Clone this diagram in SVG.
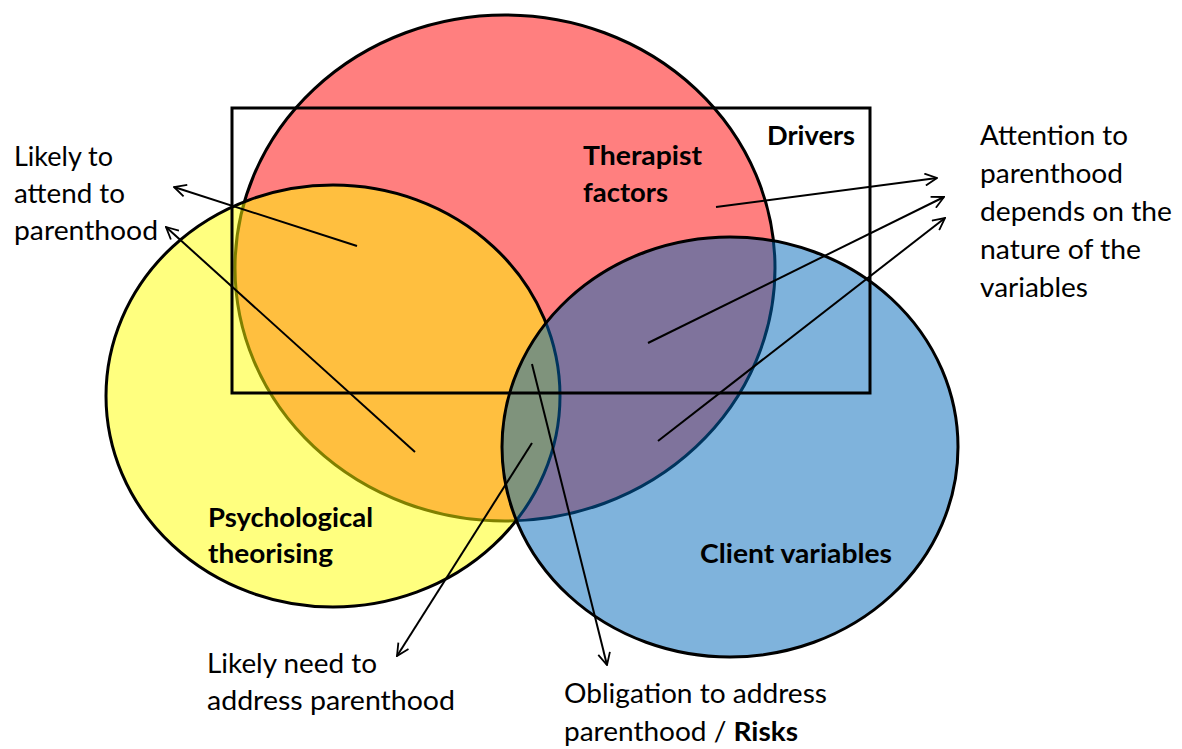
<svg xmlns="http://www.w3.org/2000/svg" width="1182" height="749" viewBox="0 0 1182 749">
<style>
.c{fill-opacity:0.5;stroke:#000;stroke-width:3}
.t{font-family:Lato,"Liberation Sans",sans-serif;font-size:26px;fill:#000}
.b{font-weight:bold}
.a{fill:none;stroke:#000;stroke-width:2;marker-end:url(#ah)}
</style>
<defs>
<marker id="ah" viewBox="0 0 14 14" refX="13" refY="7" markerWidth="14" markerHeight="14" markerUnits="userSpaceOnUse" orient="auto">
<path d="M1,1 L13,7 L1,13" fill="none" stroke="#000" stroke-width="1.8"/>
</marker>
</defs>
<rect width="1182" height="749" fill="#fff"/>
<g id="therapist">
<ellipse class="c" cx="505" cy="268" rx="270" ry="253" fill="#FF0000"/>
</g>
<g id="psychological">
<ellipse class="c" cx="333" cy="396" rx="227" ry="211" fill="#FFFF00"/>
</g>
<g id="client">
<ellipse class="c" cx="730" cy="447" rx="228" ry="210" fill="#0067B9"/>
</g>
<g id="drivers">
<rect x="232" y="108" width="638" height="285" fill="none" stroke="#000" stroke-width="3"/>
<text class="t b" x="767" y="145" textLength="88" lengthAdjust="spacingAndGlyphs">Drivers</text>
</g>
<g id="labels">
<text class="t b" x="583" y="165" textLength="119" lengthAdjust="spacingAndGlyphs">Therapist</text>
<text class="t b" x="583" y="202" textLength="85" lengthAdjust="spacingAndGlyphs">factors</text>
<text class="t b" x="208" y="527" textLength="165" lengthAdjust="spacingAndGlyphs">Psychological</text>
<text class="t b" x="208" y="563" textLength="125" lengthAdjust="spacingAndGlyphs">theorising</text>
<text class="t b" x="700" y="563" textLength="192" lengthAdjust="spacingAndGlyphs">Client variables</text>
</g>
<g id="connectors">
<line class="a" x1="357" y1="246" x2="174" y2="187"/>
<line class="a" x1="415" y1="452" x2="166" y2="227"/>
<line class="a" x1="716" y1="207" x2="937" y2="178"/>
<line class="a" x1="648" y1="343" x2="944" y2="197"/>
<line class="a" x1="658" y1="441" x2="945" y2="218"/>
<line class="a" x1="532" y1="443" x2="397" y2="656"/>
<line class="a" x1="532" y1="364" x2="607" y2="665"/>
</g>
<g id="note-left">
<text class="t" x="14" y="166" textLength="99" lengthAdjust="spacingAndGlyphs">Likely to</text>
<text class="t" x="14" y="203" textLength="111" lengthAdjust="spacingAndGlyphs">attend to</text>
<text class="t" x="14" y="240" textLength="144" lengthAdjust="spacingAndGlyphs">parenthood</text>
</g>
<g id="note-right">
<text class="t" x="980" y="145" textLength="148" lengthAdjust="spacingAndGlyphs">Attention to</text>
<text class="t" x="980" y="183" textLength="143" lengthAdjust="spacingAndGlyphs">parenthood</text>
<text class="t" x="980" y="221" textLength="192" lengthAdjust="spacingAndGlyphs">depends on the</text>
<text class="t" x="980" y="259" textLength="161" lengthAdjust="spacingAndGlyphs">nature of the</text>
<text class="t" x="980" y="297" textLength="108" lengthAdjust="spacingAndGlyphs">variables</text>
</g>
<g id="note-bottom-left">
<text class="t" x="207" y="673" textLength="170" lengthAdjust="spacingAndGlyphs">Likely need to</text>
<text class="t" x="207" y="710" textLength="248" lengthAdjust="spacingAndGlyphs">address parenthood</text>
</g>
<g id="note-bottom">
<text class="t" x="564" y="703" textLength="263" lengthAdjust="spacingAndGlyphs">Obligation to address</text>
<text class="t" x="564" y="741" textLength="234" lengthAdjust="spacingAndGlyphs">parenthood / <tspan class="b">Risks</tspan></text>
</g>
</svg>
